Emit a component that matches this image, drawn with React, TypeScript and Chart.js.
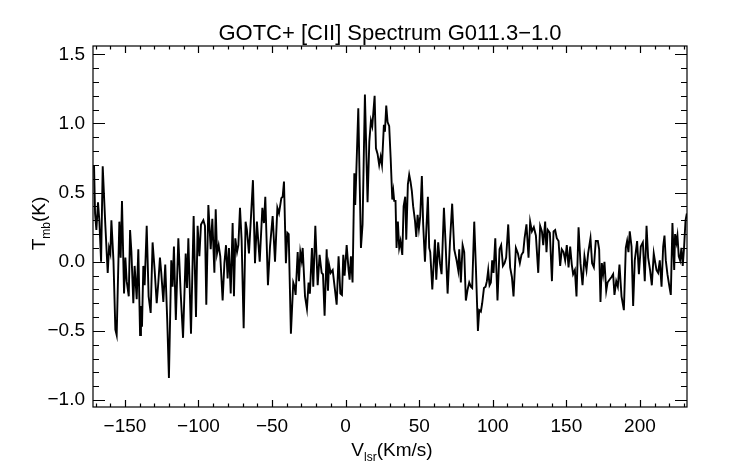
import React, { useEffect, useRef } from "react";
import { Chart, registerables } from "chart.js";

Chart.register(...registerables);

const TITLE = "GOTC+ [CII] Spectrum G011.3\u22121.0";
const X_TICKS = [-150, -100, -50, 0, 50, 100, 150, 200];
const Y_TICKS = [-1.0, -0.5, 0.0, 0.5, 1.0, 1.5];
const X_RANGE = [-171.7, 232];
const Y_RANGE = [-1.05, 1.56];

const VELOCITY = [
  -171.0, -170.3, -169.4, -168.3, -167.4, -166.2, -165.1, -163.3, -161.7, -160.8,
  -159.9, -159.2, -157.8, -156.5, -155.6, -153.8, -152.9, -152.0, -150.6, -149.7,
  -148.8, -147.4, -146.5, -145.6, -144.3, -143.4, -142.0, -140.9, -139.7, -139.1,
  -138.4, -137.5, -136.6, -135.2, -133.9, -132.5, -131.2, -129.8, -128.4, -127.3,
  -126.2, -125.3, -123.9, -122.6, -121.2, -120.1, -118.5, -117.6, -116.7, -115.4,
  -113.7, -112.1, -110.5, -108.7, -107.8, -106.9, -105.1, -103.3, -101.7, -100.6,
  -99.4, -98.3, -96.7, -95.6, -94.7, -93.3, -91.7, -90.6, -89.2, -88.3,
  -87.4, -86.3, -85.2, -83.6, -82.4, -81.3, -80.2, -79.3, -78.1, -76.8,
  -75.9, -75.0, -73.8, -72.9, -71.8, -70.7, -69.3, -68.0, -67.1, -65.7,
  -64.3, -63.0, -61.6, -60.3, -58.4, -56.6,
  -55.5, -54.6, -52.8, -51.4, -49.6, -48.0, -46.4, -45.3, -43.7, -42.8,
  -41.9, -40.6, -39.6, -38.7, -37.2, -35.6, -34.7, -34.0, -32.6, -31.7,
  -30.8, -29.9, -29.2, -27.6, -26.3, -25.2, -24.3, -22.9, -22.0, -20.6,
  -19.0, -17.7, -16.3, -15.4, -14.3, -12.9, -12.0, -11.3, -10.2, -8.8,
  -7.5, -6.1, -4.8, -3.6, -2.5, -1.6, -0.7, 0.7, 2.0,
  2.7, 3.6, 4.7, 5.9, 6.5, 7.2, 8.6, 10.4, 11.5, 13.1,
  14.9, 16.1, 17.2, 18.1, 19.7, 20.6, 21.7, 22.8, 23.8, 24.7,
  26.0, 26.7, 27.6, 28.5, 29.6, 30.6, 31.7, 32.4, 33.0, 33.9,
  34.6, 35.5, 36.4, 37.3, 38.5, 39.4, 40.5, 41.2, 42.3, 43.2,
  44.1, 45.0, 45.9, 47.1, 48.0, 48.9, 49.8, 50.7, 51.8, 52.7,
  53.9, 54.8, 55.9, 56.8,
  57.5, 58.9, 60.7, 61.6, 62.9, 64.1, 65.2, 66.8, 67.9, 69.3,
  70.9, 72.4, 73.8, 75.4, 76.5, 77.2, 78.3, 79.5, 80.6, 81.7,
  82.9, 84.0, 85.1, 86.0, 87.4, 88.5, 89.9, 90.8, 91.9, 92.8,
  94.0, 95.1, 96.0, 96.9, 97.8, 98.7, 99.6, 100.5, 101.7, 103.2,
  104.6, 105.7, 106.9, 108.0, 109.1, 110.5, 111.8, 113.0, 114.1,
  115.7, 117.1, 118.4, 119.5, 120.7, 121.6, 122.9, 124.3, 125.4, 126.6,
  127.9, 129.3, 130.9, 132.2, 133.4, 134.3, 135.6, 136.5, 137.4, 138.8,
  140.2, 141.3, 142.4, 143.5, 144.7, 145.8, 146.9, 148.1, 149.2, 150.3,
  151.5, 152.6, 153.7, 154.6, 155.8, 156.9, 158.3, 159.6, 161.0, 162.3,
  163.7, 164.8, 166.4, 167.5, 168.7, 170.0, 171.4,
  172.3, 173.2, 174.1, 175.0, 175.9, 177.1, 178.0, 179.3, 180.7, 181.8,
  182.7, 183.9, 185.0, 186.1, 187.5, 189.1, 190.4, 191.3, 192.2, 193.1,
  194.3, 195.4, 196.5, 198.1, 199.3, 200.6, 202.0, 203.3, 204.5, 205.6,
  206.9, 208.1, 209.4, 210.3, 211.3, 212.4, 213.5, 214.7, 215.8, 216.7,
  217.6, 218.7, 219.9, 221.0, 222.1, 223.3, 223.9, 224.8, 225.5, 226.4,
  227.3, 228.2, 229.1, 230.0, 231.0, 231.9,
];

const TMB = [
  0.70, 0.35, 0.23, 0.43, 0.30, 0.00, 0.69, 0.26, -0.08, 0.10,
  0.06, 0.30, 0.01, -0.49, -0.53, 0.29, 0.03, 0.44, -0.23, 0.03,
  -0.14, -0.25, 0.23, 0.07, -0.30, -0.03, -0.27, 0.09, -0.53, -0.32,
  -0.47, -0.03, -0.17, 0.26, -0.25, -0.37, 0.14, -0.06, -0.30, -0.15,
  0.03, -0.08, -0.29, -0.02, -0.44, -0.84, 0.01, -0.18, 0.11, -0.42,
  0.17, -0.23, -0.55, 0.06, -0.19, 0.17, -0.52, 0.33, -0.40, 0.26,
  0.04, 0.27, 0.30, 0.26, -0.31, 0.41, 0.09, 0.31, -0.08, 0.38,
  0.06, 0.12, 0.04, -0.28, -0.01, 0.12, -0.12, 0.10, -0.23, 0.28,
  -0.25, 0.17, 0.07, 0.12, 0.39, 0.16, -0.48, 0.29, 0.23, 0.06,
  0.33, 0.59, -0.01, 0.29, 0.00, 0.39,
  0.28, 0.47, -0.17, 0.11, 0.33, 0.00, 0.39, 0.35, 0.46, 0.47,
  0.58, -0.01, 0.21, 0.20, -0.52, -0.15, -0.18, -0.24, 0.07, -0.14,
  0.07, 0.01, 0.10, -0.25, -0.34, -0.15, -0.23, 0.10, -0.18, 0.26,
  -0.17, 0.05, -0.08, -0.09, -0.39, 0.09, -0.21, -0.02, -0.08, -0.06,
  -0.18, -0.31, 0.04, -0.23, -0.24, 0.05, -0.10, 0.12, -0.06,
  -0.13, 0.04, -0.15, 0.64, 0.41, 0.63, 1.11, 0.10, 0.27, 1.21,
  0.43, 0.87, 1.02, 0.98, 1.20, 0.82, 0.78, 0.70, 0.76, 0.70,
  0.99, 0.94, 1.13, 1.01, 0.98, 0.75, 0.45, 0.51, 0.44, 0.44,
  0.10, 0.29, 0.10, 0.15, 0.05, 0.40, 0.47, 0.16, 0.56, 0.63,
  0.58, 0.51, 0.40, 0.30, 0.18, 0.34, 0.24, 0.33, 0.62, 0.27,
  0.00, 0.22, 0.47, 0.10,
  0.07, -0.20, 0.16, -0.13, 0.14, -0.01, -0.09, 0.39, 0.14, -0.23,
  0.14, 0.42, 0.09, 0.01, -0.06, 0.09, -0.15, 0.12, 0.07, -0.28,
  -0.20, -0.15, -0.18, -0.19, 0.29, -0.03, -0.50, -0.35, -0.36, -0.30,
  -0.19, -0.18, -0.14, -0.06, -0.17, -0.15, 0.01, -0.08, 0.17, -0.28,
  0.09, 0.12, -0.03, -0.01, 0.03, 0.27, -0.04, -0.11, -0.25,
  0.10, 0.06, -0.01, 0.05, 0.07, 0.17, 0.27, 0.03, 0.29, 0.22,
  0.25, 0.19, -0.08, 0.26, 0.22, 0.12, 0.29, 0.07, 0.23, 0.21,
  -0.14, 0.22, 0.23, 0.17, 0.15, -0.03, 0.09, 0.07, 0.01, 0.12,
  -0.04, 0.11, -0.02, -0.09, -0.06, -0.25, 0.25, -0.01, -0.17, 0.04,
  -0.06, 0.06, 0.17, -0.01, -0.04, 0.15, 0.15,
  0.09, -0.29, -0.01, -0.09, 0.00, -0.21, -0.15, -0.13, -0.11, -0.09,
  -0.24, -0.14, -0.18, -0.02, -0.25, -0.35, 0.10, 0.15, 0.07, 0.22,
  0.11, -0.32, 0.01, 0.15, -0.09, 0.11, 0.14, -0.14, 0.26, 0.03,
  -0.06, -0.17, 0.06, 0.00, -0.06, -0.08, 0.01, -0.18, 0.11, 0.19,
  0.01, -0.09, -0.17, -0.24, 0.28, -0.06, 0.20, 0.14, 0.19, 0.04,
  0.01, 0.10, -0.03, 0.10, 0.30, 0.35,
];

const FONT = "'Liberation Sans', Arial, Helvetica, sans-serif";
const TICK_SIZE = 19;
const minus = (s: string) => s.replace("-", "\u2212");

const idlPlugin = {
  id: "idlFrame",
  afterDraw(chart: any) {
    const { ctx, chartArea: a, scales } = chart;
    const xs = scales.x;
    const ys = scales.y;
    ctx.save();
    ctx.strokeStyle = "#000";
    ctx.lineWidth = 1.2;
    ctx.strokeRect(a.left, a.top, a.right - a.left, a.bottom - a.top);
    ctx.beginPath();
    for (let i = Math.ceil(xs.min / 10); i * 10 <= xs.max; i++) {
      const px = Math.round(xs.getPixelForValue(i * 10)) + 0.5;
      const len = i % 5 === 0 ? 7 : 3.5;
      ctx.moveTo(px, a.bottom);
      ctx.lineTo(px, a.bottom - len);
      ctx.moveTo(px, a.top);
      ctx.lineTo(px, a.top + len);
    }
    for (let i = Math.ceil(ys.min * 10 - 1e-6); i <= Math.floor(ys.max * 10 + 1e-6); i++) {
      const py = Math.round(ys.getPixelForValue(i / 10)) + 0.5;
      const len = i % 5 === 0 ? 12 : 6;
      ctx.moveTo(a.left, py);
      ctx.lineTo(a.left + len, py);
      ctx.moveTo(a.right, py);
      ctx.lineTo(a.right - len, py);
    }
    ctx.stroke();

    ctx.fillStyle = "#000";
    ctx.font = `22px ${FONT}`;
    ctx.textAlign = "center";
    ctx.textBaseline = "alphabetic";
    ctx.fillText(TITLE, (a.left + a.right) / 2, 40);

    const big = `19px ${FONT}`;
    const small = `12px ${FONT}`;
    const drawSub = (main: string, sub: string, rest: string, cx: number, base: number) => {
      ctx.font = big;
      const w1 = ctx.measureText(main).width;
      const w3 = ctx.measureText(rest).width;
      ctx.font = small;
      const w2 = ctx.measureText(sub).width;
      const total = w1 + w2 + w3;
      let x = cx - total / 2;
      ctx.textAlign = "left";
      ctx.font = big;
      ctx.fillText(main, x, base);
      x += w1;
      ctx.font = small;
      ctx.fillText(sub, x, base + 5);
      x += w2;
      ctx.font = big;
      ctx.fillText(rest, x, base);
    };
    drawSub("V", "lsr", "(Km/s)", (a.left + a.right) / 2 + 2, 456);

    ctx.save();
    ctx.translate(45, (a.top + a.bottom) / 2 - 3);
    ctx.rotate(-Math.PI / 2);
    drawSub("T", "mb", "(K)", 0, 0);
    ctx.restore();
    ctx.restore();
  },
};

export default function App() {
  const ref = useRef<HTMLCanvasElement | null>(null);

  useEffect(() => {
    document.body.style.margin = "0";
    const canvas = ref.current;
    if (!canvas) return;
    const n = Math.min(VELOCITY.length, TMB.length);
    const points = [];
    for (let i = 0; i < n; i++) points.push({ x: VELOCITY[i], y: TMB[i] });

    const chart = new Chart(canvas, {
      type: "line",
      data: {
        datasets: [
          {
            data: points,
            borderColor: "#000",
            borderWidth: 1.9,
            pointRadius: 0,
            tension: 0,
            fill: false,
          },
        ],
      },
      options: {
        animation: false,
        responsive: false,
        maintainAspectRatio: false,
        layout: { padding: { top: 46, right: 55, left: 0, bottom: 0 } },
        plugins: {
          legend: { display: false },
          title: { display: false },
          tooltip: { enabled: false },
        },
        scales: {
          x: {
            type: "linear",
            min: X_RANGE[0],
            max: X_RANGE[1],
            grid: { display: false, drawTicks: false },
            border: { display: false },
            afterBuildTicks: (s: any) => {
              s.ticks = X_TICKS.map((v) => ({ value: v }));
            },
            afterFit: (s: any) => {
              s.height = 57;
            },
            ticks: {
              color: "#000",
              padding: 8,
              maxRotation: 0,
              autoSkip: false,
              font: { family: FONT, size: TICK_SIZE },
              callback: (v: any) => minus(String(v)),
            },
          },
          y: {
            type: "linear",
            min: Y_RANGE[0],
            max: Y_RANGE[1],
            grid: { display: false, drawTicks: false },
            border: { display: false },
            afterBuildTicks: (s: any) => {
              s.ticks = Y_TICKS.map((v) => ({ value: v }));
            },
            afterFit: (s: any) => {
              s.width = 93;
            },
            ticks: {
              color: "#000",
              padding: 8,
              autoSkip: false,
              font: { family: FONT, size: TICK_SIZE },
              callback: (v: any) => minus(Number(v).toFixed(1)),
            },
          },
        },
      },
      plugins: [idlPlugin],
    });
    return () => chart.destroy();
  }, []);

  return (
    <div style={{ position: "fixed", left: 0, top: 0, width: 742, height: 464, background: "#fff" }}>
      <canvas ref={ref} width={742} height={464} style={{ width: 742, height: 464, display: "block" }} />
    </div>
  );
}
